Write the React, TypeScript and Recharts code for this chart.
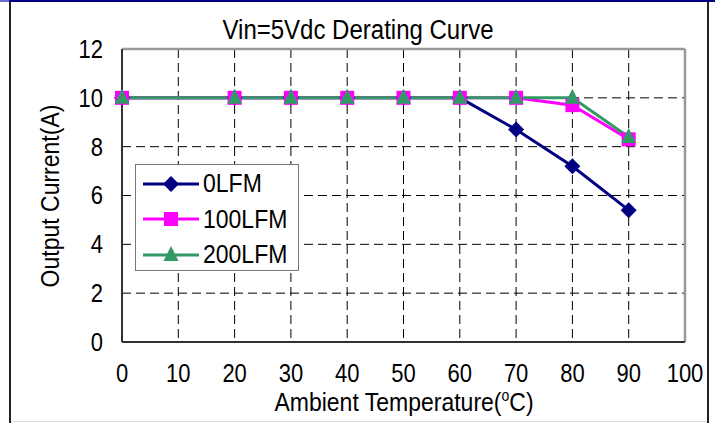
import {
  LineChart,
  Line,
  XAxis,
  YAxis,
  CartesianGrid,
  Legend,
  ReferenceLine,
} from "recharts";

const temps = [0, 20, 30, 40, 50, 60, 70, 80, 90];
const lfm0 = [10, 10, 10, 10, 10, 10, 8.7, 7.2, 5.4];
const lfm100 = [10, 10, 10, 10, 10, 10, 10, 9.7, 8.3];
const lfm200 = [10, 10, 10, 10, 10, 10, 10, 10, 8.4];

const xTicks = [0, 10, 20, 30, 40, 50, 60, 70, 80, 90, 100];
const yTicks = [0, 2, 4, 6, 8, 10, 12];

const seriesNames = ["0LFM", "100LFM", "200LFM"];
const NAVY = "#000080";
const MAGENTA = "#FF00FF";
const GREEN = "#339966";

const data = temps.map((t, i) => ({
  t,
  a: lfm0[i],
  b: lfm100[i],
  c: lfm200[i],
}));

const FONT = "'Liberation Sans', Arial, sans-serif";
// the original chart's text is a bit stretched vertically
const STRETCH = 1.15;

const Diamond = ({ cx, cy, fill }: any) => (
  <path
    d={`M${cx},${cy - 8}L${cx + 8},${cy}L${cx},${cy + 8}L${cx - 8},${cy}Z`}
    fill={fill}
  />
);
const Square = ({ cx, cy, fill }: any) => (
  <rect x={cx - 7} y={cy - 7} width={14} height={14} fill={fill} />
);
const Triangle = ({ cx, cy, fill }: any) => (
  <path
    d={`M${cx},${cy - 9}L${cx + 7.5},${cy + 6}L${cx - 7.5},${cy + 6}Z`}
    fill={fill}
  />
);

const XTick = ({ x, y, payload }: any) => (
  <g transform={`translate(${x},${y}) scale(1,${STRETCH})`}>
    <text x={0} y={0} dy="0.71em" textAnchor="middle" fontSize={22} fontFamily={FONT} fill="#000">
      {payload.value}
    </text>
  </g>
);

const YTick = ({ x, y, payload }: any) => (
  <g transform={`translate(${x},${y}) scale(1,${STRETCH})`}>
    <text x={0} y={0} dy="0.355em" textAnchor="end" fontSize={22} fontFamily={FONT} fill="#000">
      {payload.value}
    </text>
  </g>
);

const markers = [
  { name: seriesNames[0], color: NAVY, Shape: Diamond },
  { name: seriesNames[1], color: MAGENTA, Shape: Square },
  { name: seriesNames[2], color: GREEN, Shape: Triangle },
];

const LegendBox = () => (
  <div
    style={{
      width: 164,
      height: 107,
      boxSizing: "border-box",
      border: "1.5px solid #777",
      background: "#fff",
      paddingTop: 1,
    }}
  >
    {markers.map(({ name, color, Shape }) => (
      <div
        key={name}
        style={{ display: "flex", alignItems: "center", height: 35.5 }}
      >
        <svg width={66} height={24} style={{ marginLeft: 5 }}>
          <line x1={2} y1={12} x2={58} y2={12} stroke={color} strokeWidth={3} />
          <Shape cx={30} cy={12} fill={color} />
        </svg>
        <span
          style={{
            fontFamily: FONT,
            fontSize: 23,
            color: "#000",
            marginLeft: -4,
            display: "inline-block",
            transform: `scaleY(${STRETCH})`,
          }}
        >
          {name}
        </span>
      </div>
    ))}
  </div>
);

const App = () => {
  return (
    <div
      style={{
        position: "absolute",
        left: 0,
        top: 0,
        width: 715,
        height: 423,
        background: "#fff",
        overflow: "hidden",
      }}
    >
      {/* outer frame */}
      <div style={{ position: "absolute", left: 0, top: 0, width: 9, height: 2, background: "#6a6ad0" }} />
      <div style={{ position: "absolute", left: 9, top: 0, width: 706, height: 2, background: NAVY }} />
      <div style={{ position: "absolute", left: 9, top: 2, width: 2, height: 421, background: "#222" }} />
      <div style={{ position: "absolute", left: 707, top: 2, width: 2, height: 421, background: "#222" }} />
      <div style={{ position: "absolute", left: 11, top: 421, width: 696, height: 1, background: "#ddd" }} />

      <div
        style={{
          position: "absolute",
          left: 358,
          top: 16,
          transform: `translateX(-50%) scaleY(${STRETCH})`,
          whiteSpace: "nowrap",
          fontFamily: FONT,
          fontSize: 24,
          color: "#000",
        }}
      >
        Vin=5Vdc Derating Curve
      </div>

      <div
        style={{
          position: "absolute",
          left: 50,
          top: 196,
          transform: `translate(-50%, -50%) rotate(-90deg) scaleY(${STRETCH})`,
          whiteSpace: "nowrap",
          fontFamily: FONT,
          fontSize: 23,
          color: "#000",
        }}
      >
        Output Current(A)
      </div>

      <div
        style={{
          position: "absolute",
          left: 404,
          top: 390,
          lineHeight: "24px",
          transform: `translateX(-50%) scaleY(${STRETCH})`,
          whiteSpace: "nowrap",
          fontFamily: FONT,
          fontSize: 23,
          color: "#000",
        }}
      >
        Ambient Temperature(<sup style={{ fontSize: 14, lineHeight: 0 }}>o</sup>C)
      </div>

      <LineChart
        width={715}
        height={423}
        data={data}
        margin={{ top: 49, right: 30, left: 0, bottom: 0 }}
        style={{ position: "absolute", left: 0, top: 0 }}
      >
        <CartesianGrid stroke="#000" strokeDasharray="9 5" />
        <XAxis
          dataKey="t"
          type="number"
          domain={[0, 100]}
          ticks={xTicks}
          interval={0}
          height={81}
          tick={<XTick />}
          tickLine={false}
          tickSize={0}
          tickMargin={22}
          axisLine={{ stroke: "#333", strokeWidth: 2 }}
        />
        <YAxis
          type="number"
          domain={[0, 12]}
          ticks={yTicks}
          interval={0}
          width={122}
          tick={<YTick />}
          tickLine={false}
          tickSize={0}
          tickMargin={19}
          axisLine={{ stroke: "#333", strokeWidth: 2 }}
        />
        <ReferenceLine y={12} stroke="#999" strokeWidth={2.5} />
        <ReferenceLine x={100} stroke="#999" strokeWidth={2.5} />
        <Legend
          layout="vertical"
          align="center"
          verticalAlign="middle"
          content={() => <LegendBox />}
          wrapperStyle={{ left: 135, top: 164, width: 164, height: 107 }}
        />
        <Line
          dataKey="a"
          name={seriesNames[0]}
          stroke={NAVY}
          strokeWidth={3}
          dot={(p: any) => <Diamond key={`a${p.index}`} cx={p.cx} cy={p.cy} fill={NAVY} />}
          isAnimationActive={false}
        />
        <Line
          dataKey="b"
          name={seriesNames[1]}
          stroke={MAGENTA}
          strokeWidth={3}
          dot={(p: any) => <Square key={`b${p.index}`} cx={p.cx} cy={p.cy} fill={MAGENTA} />}
          isAnimationActive={false}
        />
        <Line
          dataKey="c"
          name={seriesNames[2]}
          stroke={GREEN}
          strokeWidth={3}
          dot={(p: any) => <Triangle key={`c${p.index}`} cx={p.cx} cy={p.cy} fill={GREEN} />}
          isAnimationActive={false}
        />
      </LineChart>
    </div>
  );
};

export default App;
